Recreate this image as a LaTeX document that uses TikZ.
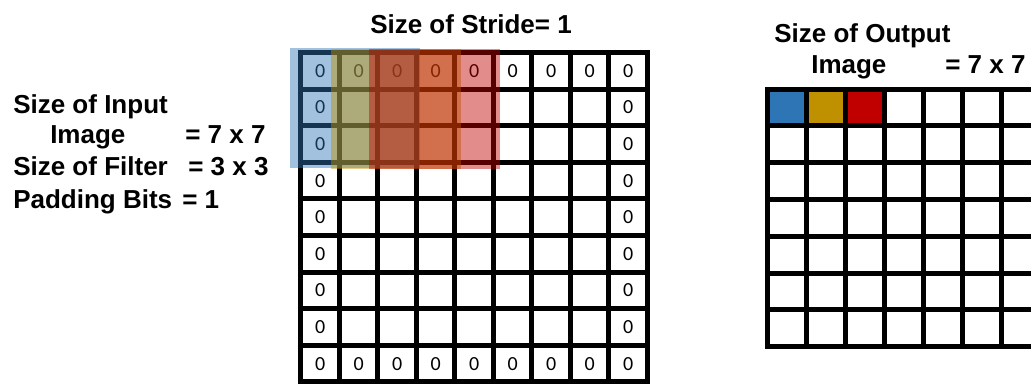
\documentclass[tikz,border=0pt]{standalone}
\usepackage{fontspec}
\setmainfont{Liberation Sans}
\newfontfamily\cellfont{Carlito}
\usetikzlibrary{positioning}
\definecolor{filterblue}{RGB}{46,117,182}
\definecolor{filtergold}{RGB}{191,144,0}
\definecolor{filterred}{RGB}{192,0,0}

\begin{document}
\begin{tikzpicture}[
    x=0.75pt, y=-0.75pt,
    incell/.style={rectangle, draw=black, line width=3.75pt, minimum width=28.9pt, minimum height=27.45pt, inner sep=0pt, outer sep=0pt},
    outcell/.style={rectangle, draw=black, line width=3.75pt, minimum width=29.25pt, minimum height=27.6pt, inner sep=0pt, outer sep=0pt},
    pad/.style={inner sep=0pt, font=\cellfont\fontsize{15}{15}\selectfont},
    infotext/.style={anchor=base west, inner sep=0pt, font=\bfseries\fontsize{19.5}{23}\selectfont},
    window/.style={fill opacity=0.45}
]
\useasboundingbox (0,0) rectangle (1031,383);

% Padded input image (9 x 9)
\foreach \i in {0,...,8}
  \foreach \j in {0,...,8}
    \node[incell] (in-\i-\j) at ({320.2+38.5*\i},{70.8+36.6*\j}) {};

% Padding bits
\foreach \k in {0,...,8} {
  \node[pad] at (in-\k-0) {0};
  \node[pad] at (in-\k-8) {0};
}
\foreach \k in {1,...,7} {
  \node[pad] at (in-0-\k) {0};
  \node[pad] at (in-8-\k) {0};
}

% Filter windows
\fill[window, filterblue] (290,48) rectangle (420,168);
\fill[window, filtergold] (331,48.5) rectangle (461,169);
\fill[window, filterred] (369,49) rectangle (500,169);

% Output image (7 x 7)
\foreach \i in {0,...,6}
  \foreach \j in {0,...,6}
    \node[outcell] (out-\i-\j) at ({786.5+39*\i},{107.4+36.8*\j}) {};
\node[outcell, fill=filterblue] at (out-0-0) {};
\node[outcell, fill=filtergold] at (out-1-0) {};
\node[outcell, fill=filterred] at (out-2-0) {};

% Titles
\node[infotext] (stride) at (370,33) {Size of Stride= 1};

\node[infotext] (insize) at (13,113) {Size of Input};
\node[infotext] (inimage) at (50,143) {Image};
\node[infotext] (inval) at (185,143) {= 7 x 7};
\node[infotext] (filter) at (13,175) {Size of Filter};
\node[infotext] (filterval) at (188,175) {= 3 x 3};
\node[infotext] (padding) at (13,208) {Padding Bits};
\node[infotext] (paddingval) at (182,208) {= 1};

\node[infotext] (outsize) at (774,42) {Size of Output};
\node[infotext] (outimage) at (811,73) {Image};
\node[infotext] (outval) at (945,73) {= 7 x 7};
\end{tikzpicture}
\end{document}
